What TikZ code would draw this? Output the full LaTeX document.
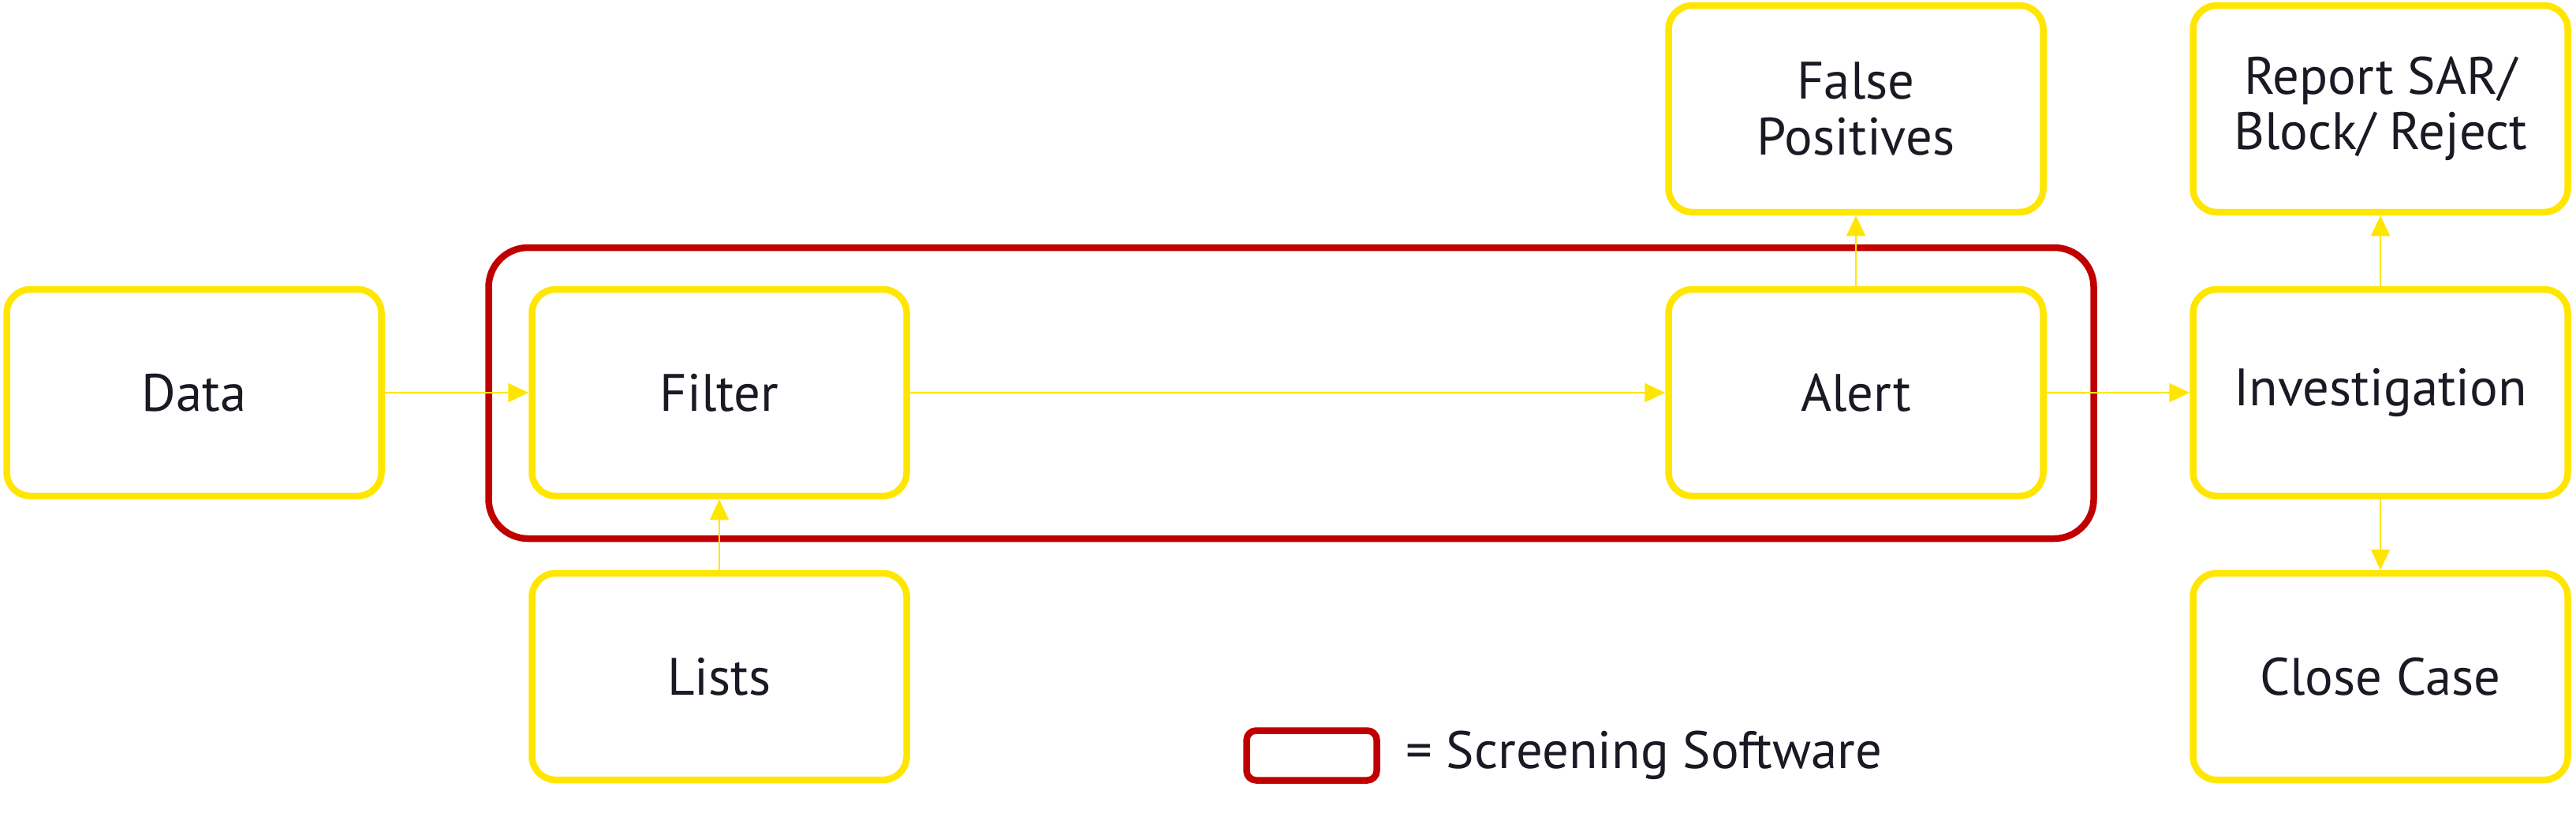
\documentclass[tikz,border=0pt]{standalone}
\usepackage{fontspec}
\setmainfont{PT Sans}
\usetikzlibrary{arrows.meta}
\definecolor{eyyellow}{HTML}{FFE600}
\definecolor{eyred}{HTML}{C00000}
\definecolor{eytext}{HTML}{1A1A24}
\begin{document}
\begin{tikzpicture}[line join=round, line cap=round, >={Triangle[length=0.26cm,width=0.24cm]},
	box/.style={draw=eyyellow, line width=0.085cm, rounded corners=0.3cm, minimum width=4.75cm, minimum height=2.62cm, align=center, text=eytext, font=\fontsize{19}{20}\selectfont},
	flow/.style={->, draw=eyyellow, line width=0.6pt},
	frame/.style={draw=eyred, line width=0.085cm, rounded corners=0.5cm}]
	\useasboundingbox (0,0) rectangle (32.66,-10.30);
	\node[frame, minimum width=20.35cm, minimum height=3.69cm] (sw) at (16.37,-4.985) {};
	\path
	(2.46,-4.98) node[box] (data) {Data}
	(9.12,-4.98) node[box] (filter) {Filter}
	(9.12,-8.58) node[box] (lists) {Lists}
	(23.53,-4.98) node[box] (alert) {Alert}
	(23.53,-1.38) node[box] (false) {False\\Positives}
	(30.18,-4.98) node[box] (invest) {Investigation}
	(30.18,-1.38) node[box] (report) {Report SAR/\\Block/ Reject}
	(30.18,-8.58) node[box] (close) {Close Case}
	;
	\draw[flow] (data)--(filter);
	\draw[flow] (filter)--(alert);
	\draw[flow] (lists)--(filter);
	\draw[flow] (alert)--(false);
	\draw[flow] (alert)--(invest);
	\draw[flow] (invest)--(report);
	\draw[flow] (invest)--(close);
	% legend
	\node[frame, rounded corners=0.12cm, minimum width=1.65cm, minimum height=0.63cm] (key) at (16.63,-9.58) {};
	\node[anchor=west, xshift=0.2cm, text=eytext, font=\fontsize{19}{20}\selectfont] (keytext) at (key.east) {= Screening Software};
\end{tikzpicture}
\end{document}
